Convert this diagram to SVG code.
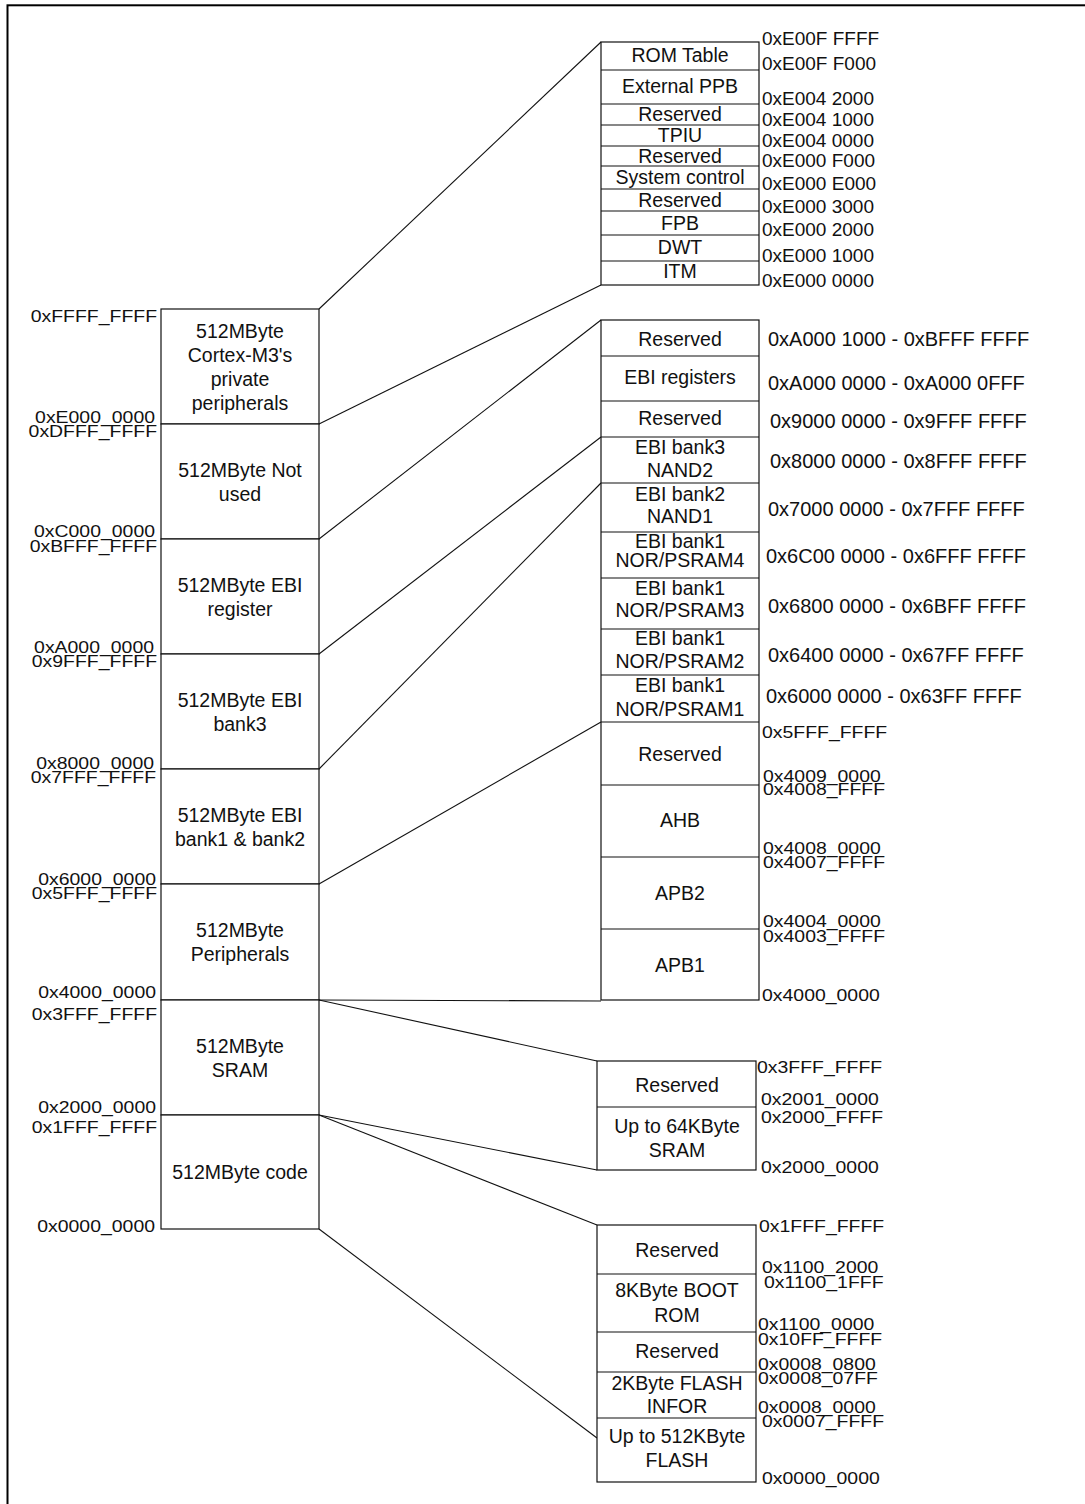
<svg xmlns="http://www.w3.org/2000/svg" width="1085" height="1504" viewBox="0 0 1085 1504">
<style>
  .frame { fill: none; stroke: #000; stroke-width: 2; }
  .box { fill: #fff; stroke: #111; stroke-width: 1.2; }
  .div { stroke: #111; stroke-width: 1.2; }
  .con { stroke: #111; stroke-width: 1.1; fill: none; }
  text { font-family: "Liberation Sans", Arial, sans-serif; font-size: 19.5px; fill: #111; }
  .c { text-anchor: middle; }
  .e { text-anchor: end; }
  .a { font-size: 17.2px; }
  .r { font-size: 20px; }
  .t { font-size: 19px; }
</style>
<rect x="0" y="0" width="1085" height="1504" fill="#fff"/>
<rect class="frame" x="7.5" y="5.3" width="1100" height="1520"/>

<g id="connectors">
  <line class="con" x1="319" y1="309" x2="601" y2="42"/>
  <line class="con" x1="319" y1="424" x2="601" y2="285"/>
  <line class="con" x1="319" y1="539" x2="601" y2="320"/>
  <line class="con" x1="319" y1="654" x2="601" y2="437"/>
  <line class="con" x1="319" y1="769" x2="601" y2="483"/>
  <line class="con" x1="319" y1="884" x2="601" y2="722"/>
  <line class="con" x1="319" y1="1000" x2="601" y2="1001"/>
  <line class="con" x1="319" y1="1000" x2="597" y2="1061"/>
  <line class="con" x1="319" y1="1115" x2="597" y2="1170"/>
  <line class="con" x1="319" y1="1115" x2="597" y2="1225"/>
  <line class="con" x1="319" y1="1229" x2="597" y2="1438"/>
</g>

<!-- Left memory map column -->
<g id="left-ppb">
  <rect class="box" x="161" y="309" width="158" height="115"/>
  <text class="c" x="240" y="337.5">512MByte</text>
  <text class="c" x="240" y="361.5">Cortex-M3's</text>
  <text class="c" x="240" y="385.5">private</text>
  <text class="c" x="240" y="409.5">peripherals</text>
</g>
<g id="left-notused">
  <rect class="box" x="161" y="424" width="158" height="115"/>
  <text class="c" x="240" y="476.5">512MByte Not</text>
  <text class="c" x="240" y="500.5">used</text>
</g>
<g id="left-ebireg">
  <rect class="box" x="161" y="539" width="158" height="115"/>
  <text class="c" x="240" y="591.5">512MByte EBI</text>
  <text class="c" x="240" y="615.5">register</text>
</g>
<g id="left-ebibank3">
  <rect class="box" x="161" y="654" width="158" height="115"/>
  <text class="c" x="240" y="706.5">512MByte EBI</text>
  <text class="c" x="240" y="730.5">bank3</text>
</g>
<g id="left-ebibank12">
  <rect class="box" x="161" y="769" width="158" height="115"/>
  <text class="c" x="240" y="821.5">512MByte EBI</text>
  <text class="c" x="240" y="845.5">bank1 &amp; bank2</text>
</g>
<g id="left-periph">
  <rect class="box" x="161" y="884" width="158" height="116"/>
  <text class="c" x="240" y="937">512MByte</text>
  <text class="c" x="240" y="961">Peripherals</text>
</g>
<g id="left-sram">
  <rect class="box" x="161" y="1000" width="158" height="115"/>
  <text class="c" x="240" y="1052.5">512MByte</text>
  <text class="c" x="240" y="1076.5">SRAM</text>
</g>
<g id="left-code">
  <rect class="box" x="161" y="1115" width="158" height="114"/>
  <text class="c" x="240" y="1179">512MByte code</text>
</g>

<g id="left-addresses">
  <text class="e a" transform="translate(157 322) scale(1.13 1)">0xFFFF_FFFF</text>
  <text class="e a" transform="translate(155 423) scale(1.13 1)">0xE000_0000</text>
  <text class="e a" transform="translate(157 437) scale(1.13 1)">0xDFFF_FFFF</text>
  <text class="e a" transform="translate(155 537) scale(1.13 1)">0xC000_0000</text>
  <text class="e a" transform="translate(157 552) scale(1.13 1)">0xBFFF_FFFF</text>
  <text class="e a" transform="translate(154 653) scale(1.13 1)">0xA000_0000</text>
  <text class="e a" transform="translate(157 667) scale(1.13 1)">0x9FFF_FFFF</text>
  <text class="e a" transform="translate(154 769) scale(1.13 1)">0x8000_0000</text>
  <text class="e a" transform="translate(156 783) scale(1.13 1)">0x7FFF_FFFF</text>
  <text class="e a" transform="translate(156 885) scale(1.13 1)">0x6000_0000</text>
  <text class="e a" transform="translate(157 899) scale(1.13 1)">0x5FFF_FFFF</text>
  <text class="e a" transform="translate(156 998) scale(1.13 1)">0x4000_0000</text>
  <text class="e a" transform="translate(157 1020) scale(1.13 1)">0x3FFF_FFFF</text>
  <text class="e a" transform="translate(156 1113) scale(1.13 1)">0x2000_0000</text>
  <text class="e a" transform="translate(157 1133) scale(1.13 1)">0x1FFF_FFFF</text>
  <text class="e a" transform="translate(155 1232) scale(1.13 1)">0x0000_0000</text>
</g>

<!-- Private peripheral bus detail -->
<g id="ppb-detail">
  <rect class="box" x="601" y="42" width="158" height="243"/>
  <line class="div" x1="601" y1="70" x2="759" y2="70"/>
  <line class="div" x1="601" y1="104" x2="759" y2="104"/>
  <line class="div" x1="601" y1="125" x2="759" y2="125"/>
  <line class="div" x1="601" y1="146" x2="759" y2="146"/>
  <line class="div" x1="601" y1="166" x2="759" y2="166"/>
  <line class="div" x1="601" y1="189" x2="759" y2="189"/>
  <line class="div" x1="601" y1="211" x2="759" y2="211"/>
  <line class="div" x1="601" y1="235" x2="759" y2="235"/>
  <line class="div" x1="601" y1="261" x2="759" y2="261"/>
  <text class="c" x="680" y="62">ROM Table</text>
  <text class="c" x="680" y="93">External PPB</text>
  <text class="c" x="680" y="121">Reserved</text>
  <text class="c" x="680" y="142">TPIU</text>
  <text class="c" x="680" y="163">Reserved</text>
  <text class="c" x="680" y="184">System control</text>
  <text class="c" x="680" y="207">Reserved</text>
  <text class="c" x="680" y="230">FPB</text>
  <text class="c" x="680" y="254">DWT</text>
  <text class="c" x="680" y="278">ITM</text>
  <text class="t" x="762" y="45">0xE00F FFFF</text>
  <text class="t" x="762" y="70">0xE00F F000</text>
  <text class="t" x="762" y="105">0xE004 2000</text>
  <text class="t" x="762" y="126">0xE004 1000</text>
  <text class="t" x="762" y="147">0xE004 0000</text>
  <text class="t" x="762" y="167">0xE000 F000</text>
  <text class="t" x="762" y="190">0xE000 E000</text>
  <text class="t" x="762" y="213">0xE000 3000</text>
  <text class="t" x="762" y="236">0xE000 2000</text>
  <text class="t" x="762" y="262">0xE000 1000</text>
  <text class="t" x="762" y="287">0xE000 0000</text>
</g>

<!-- EBI and peripheral detail -->
<g id="ebi-detail">
  <rect class="box" x="601" y="320" width="158" height="680"/>
  <line class="div" x1="601" y1="356" x2="759" y2="356"/>
  <line class="div" x1="601" y1="401" x2="759" y2="401"/>
  <line class="div" x1="601" y1="437" x2="759" y2="437"/>
  <line class="div" x1="601" y1="483" x2="759" y2="483"/>
  <line class="div" x1="601" y1="532" x2="759" y2="532"/>
  <line class="div" x1="601" y1="578" x2="759" y2="578"/>
  <line class="div" x1="601" y1="629" x2="759" y2="629"/>
  <line class="div" x1="601" y1="675" x2="759" y2="675"/>
  <line class="div" x1="601" y1="722" x2="759" y2="722"/>
  <line class="div" x1="601" y1="785" x2="759" y2="785"/>
  <line class="div" x1="601" y1="857" x2="759" y2="857"/>
  <line class="div" x1="601" y1="929" x2="759" y2="929"/>
  <text class="c" x="680" y="346">Reserved</text>
  <text class="c" x="680" y="384">EBI registers</text>
  <text class="c" x="680" y="425">Reserved</text>
  <text class="c" x="680" y="454">EBI bank3</text>
  <text class="c" x="680" y="477">NAND2</text>
  <text class="c" x="680" y="501">EBI bank2</text>
  <text class="c" x="680" y="523">NAND1</text>
  <text class="c" x="680" y="548">EBI bank1</text>
  <text class="c" x="680" y="567">NOR/PSRAM4</text>
  <text class="c" x="680" y="595">EBI bank1</text>
  <text class="c" x="680" y="617">NOR/PSRAM3</text>
  <text class="c" x="680" y="645">EBI bank1</text>
  <text class="c" x="680" y="668">NOR/PSRAM2</text>
  <text class="c" x="680" y="692">EBI bank1</text>
  <text class="c" x="680" y="716">NOR/PSRAM1</text>
  <text class="c" x="680" y="761">Reserved</text>
  <text class="c" x="680" y="827">AHB</text>
  <text class="c" x="680" y="900">APB2</text>
  <text class="c" x="680" y="972">APB1</text>
  <text class="r" x="768" y="346">0xA000 1000 - 0xBFFF FFFF</text>
  <text class="r" x="768" y="390">0xA000 0000 - 0xA000 0FFF</text>
  <text class="r" x="770" y="428">0x9000 0000 - 0x9FFF FFFF</text>
  <text class="r" x="770" y="468">0x8000 0000 - 0x8FFF FFFF</text>
  <text class="r" x="768" y="516">0x7000 0000 - 0x7FFF FFFF</text>
  <text class="r" x="766" y="563">0x6C00 0000 - 0x6FFF FFFF</text>
  <text class="r" x="768" y="613">0x6800 0000 - 0x6BFF FFFF</text>
  <text class="r" x="768" y="662">0x6400 0000 - 0x67FF FFFF</text>
  <text class="r" x="766" y="703">0x6000 0000 - 0x63FF FFFF</text>
  <text class="a" transform="translate(762 738) scale(1.13 1)">0x5FFF_FFFF</text>
  <text class="a" transform="translate(763 782) scale(1.13 1)">0x4009_0000</text>
  <text class="a" transform="translate(763 795) scale(1.13 1)">0x4008_FFFF</text>
  <text class="a" transform="translate(763 854) scale(1.13 1)">0x4008_0000</text>
  <text class="a" transform="translate(763 868) scale(1.13 1)">0x4007_FFFF</text>
  <text class="a" transform="translate(763 927) scale(1.13 1)">0x4004_0000</text>
  <text class="a" transform="translate(763 942) scale(1.13 1)">0x4003_FFFF</text>
  <text class="a" transform="translate(762 1001) scale(1.13 1)">0x4000_0000</text>
</g>

<!-- SRAM detail -->
<g id="sram-detail">
  <rect class="box" x="597" y="1061" width="159" height="109"/>
  <line class="div" x1="597" y1="1107" x2="756" y2="1107"/>
  <text class="c" x="677" y="1092">Reserved</text>
  <text class="c" x="677" y="1133">Up to 64KByte</text>
  <text class="c" x="677" y="1157">SRAM</text>
  <text class="a" transform="translate(757 1073) scale(1.13 1)">0x3FFF_FFFF</text>
  <text class="a" transform="translate(761 1105) scale(1.13 1)">0x2001_0000</text>
  <text class="a" transform="translate(761 1123) scale(1.13 1)">0x2000_FFFF</text>
  <text class="a" transform="translate(761 1173) scale(1.13 1)">0x2000_0000</text>
</g>

<!-- Code detail -->
<g id="code-detail">
  <rect class="box" x="597" y="1225" width="159" height="257"/>
  <line class="div" x1="597" y1="1274" x2="756" y2="1274"/>
  <line class="div" x1="597" y1="1332" x2="756" y2="1332"/>
  <line class="div" x1="597" y1="1372" x2="756" y2="1372"/>
  <line class="div" x1="597" y1="1418" x2="756" y2="1418"/>
  <text class="c" x="677" y="1257">Reserved</text>
  <text class="c" x="677" y="1297">8KByte BOOT</text>
  <text class="c" x="677" y="1322">ROM</text>
  <text class="c" x="677" y="1358">Reserved</text>
  <text class="c" x="677" y="1390">2KByte FLASH</text>
  <text class="c" x="677" y="1413">INFOR</text>
  <text class="c" x="677" y="1443">Up to 512KByte</text>
  <text class="c" x="677" y="1467">FLASH</text>
  <text class="a" transform="translate(759 1232) scale(1.13 1)">0x1FFF_FFFF</text>
  <text class="a" transform="translate(762 1273) scale(1.13 1)">0x1100_2000</text>
  <text class="a" transform="translate(764 1288) scale(1.13 1)">0x1100_1FFF</text>
  <text class="a" transform="translate(758 1330) scale(1.13 1)">0x1100_0000</text>
  <text class="a" transform="translate(758 1345) scale(1.13 1)">0x10FF_FFFF</text>
  <text class="a" transform="translate(758 1370) scale(1.13 1)">0x0008_0800</text>
  <text class="a" transform="translate(758 1384) scale(1.13 1)">0x0008_07FF</text>
  <text class="a" transform="translate(758 1413) scale(1.13 1)">0x0008_0000</text>
  <text class="a" transform="translate(762 1427) scale(1.13 1)">0x0007_FFFF</text>
  <text class="a" transform="translate(762 1484) scale(1.13 1)">0x0000_0000</text>
</g>
</svg>
